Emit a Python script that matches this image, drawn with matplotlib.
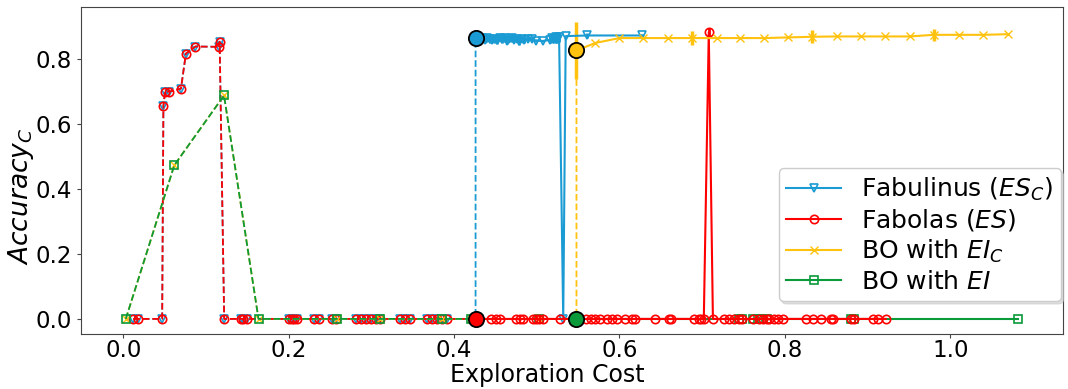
import matplotlib
matplotlib.use("Agg")
import matplotlib.pyplot as plt
from matplotlib.lines import Line2D

plt.rcParams['font.family'] = ['DejaVu Sans']
plt.rcParams['font.size'] = 17

BLUE = '#1a9bd3'
RED = '#ff0000'
YELLOW = '#ffc20e'
GREEN = '#0a9a3a'

# Fabolas - initial (dashed) part, shared by Fabulinus
fab_x_init = [0.012, 0.018, 0.047, 0.0485, 0.0505, 0.0557, 0.0697, 0.0757, 0.0873, 0.1154, 0.1165,
              0.122, 0.142, 0.145, 0.149, 0.200, 0.204, 0.207, 0.210, 0.231, 0.237, 0.252, 0.257,
              0.281, 0.287, 0.293, 0.299, 0.305, 0.311, 0.335, 0.341, 0.347, 0.367, 0.373, 0.379,
              0.385, 0.391, 0.426]
fab_y_init = [0, 0, 0, 0.657, 0.701, 0.701, 0.710, 0.818, 0.840, 0.839, 0.855,
              0, 0, 0, 0, 0, 0, 0, 0, 0, 0, 0, 0,
              0, 0, 0, 0, 0, 0, 0, 0, 0, 0, 0, 0,
              0, 0, 0]

# Fabolas - after switch
fab_x = [0.426, 0.445, 0.451, 0.455, 0.475, 0.480, 0.483, 0.495, 0.499, 0.503, 0.507, 0.528,
         0.559, 0.565, 0.571, 0.576, 0.585, 0.591, 0.597, 0.607, 0.615, 0.619, 0.643, 0.660,
         0.662, 0.690, 0.696, 0.699, 0.702, 0.708, 0.713, 0.727, 0.733, 0.738, 0.744, 0.748,
         0.761, 0.769, 0.774, 0.778, 0.781, 0.787, 0.792, 0.798, 0.826, 0.834, 0.844, 0.856,
         0.858, 0.880, 0.884, 0.906, 0.913, 0.922]
fab_y = [0, 0, 0, 0, 0, 0, 0, 0, 0, 0, 0, 0,
         0, 0, 0, 0, 0, 0, 0, 0, 0, 0, 0, 0,
         0, 0, 0, 0, 0, 0.884, 0, 0, 0, 0, 0, 0,
         0, 0, 0, 0, 0, 0, 0, 0, 0, 0, 0, 0,
         0, 0, 0, 0, 0, 0]
fab_err = [0] * 29 + [0.013] + [0] * 24

# Fabulinus - initial part equals Fabolas, then jumps at switch
fabu_x_init = fab_x_init + [0.426]
fabu_y_init = fab_y_init + [0.866]

fabu_x = [0.426, 0.431, 0.434, 0.437, 0.440, 0.443, 0.446, 0.449, 0.452, 0.455, 0.458, 0.461,
          0.464, 0.467, 0.470, 0.473, 0.476, 0.479, 0.482, 0.485, 0.489, 0.494, 0.499, 0.507,
          0.516, 0.519, 0.521, 0.523, 0.525, 0.527, 0.532, 0.535, 0.561, 0.627]
fabu_y = [0.866, 0.862, 0.865, 0.860, 0.866, 0.863, 0.861, 0.864, 0.859, 0.866, 0.862, 0.865,
          0.858, 0.863, 0.866, 0.861, 0.864, 0.857, 0.862, 0.860, 0.864, 0.862, 0.858, 0.857,
          0.860, 0.866, 0.862, 0.868, 0.864, 0.870, 0.0, 0.872, 0.874, 0.874]
fabu_err = [0.0, 0.010, 0.012, 0.008, 0.011, 0.013, 0.009, 0.012, 0.010, 0.008, 0.011, 0.012,
            0.009, 0.010, 0.012, 0.008, 0.011, 0.013, 0.009, 0.010, 0.008, 0.006, 0.005, 0.004,
            0.010, 0.014, 0.012, 0.016, 0.013, 0.015, 0.0, 0.0, 0.008, 0.004]

# BO with EI - initial (dashed) part, shared by BO with EI_C
ei_x_init = [0.003, 0.0617, 0.1218, 0.1635, 0.259, 0.311, 0.385, 0.420, 0.503, 0.548]
ei_y_init = [0, 0.474, 0.689, 0, 0, 0, 0, 0, 0, 0]

ei_x = [0.548, 0.745, 0.748, 0.761, 0.767, 0.772, 0.778, 0.880, 0.884, 1.082]
ei_y = [0, 0, 0, 0, 0, 0, 0, 0, 0, 0]

eic_x_init = ei_x_init + [0.548]
eic_y_init = ei_y_init + [0.828]

eic_x = [0.548, 0.571, 0.600, 0.629, 0.659, 0.6875, 0.7175, 0.746, 0.775, 0.804, 0.833,
         0.8626, 0.892, 0.921, 0.951, 0.980, 1.010, 1.040, 1.070]
eic_y = [0.828, 0.851, 0.866, 0.866, 0.866, 0.866, 0.866, 0.866, 0.866, 0.868, 0.870,
         0.871, 0.871, 0.871, 0.871, 0.876, 0.876, 0.876, 0.878]
eic_err = [0.088, 0, 0, 0, 0, 0.022, 0, 0, 0, 0, 0.02,
           0, 0, 0, 0, 0.018, 0, 0, 0]

fig = plt.figure(figsize=(10.68, 3.89), dpi=100)
ax = fig.add_axes([0.076, 0.142, 0.919, 0.840])

mk = dict(fillstyle='none', markersize=6, markeredgewidth=1.2)

# Fabulinus
ax.plot(fabu_x_init, fabu_y_init, '--', color=BLUE, marker='v', lw=1.3, **mk)
ax.errorbar(fabu_x, fabu_y, yerr=fabu_err, color=BLUE, marker='v', lw=1.5, elinewidth=2, **mk)
# Fabolas
ax.plot(fab_x_init, fab_y_init, '--', color=RED, marker='o', lw=1.3, **mk)
ax.errorbar(fab_x, fab_y, yerr=fab_err, color=RED, marker='o', lw=1.5, elinewidth=2, **mk)
# BO with EI_C
ax.plot(eic_x_init, eic_y_init, '--', color=YELLOW, marker='x', lw=1.3, markersize=6)
ax.errorbar(eic_x, eic_y, yerr=eic_err, color=YELLOW, marker='x', lw=1.5, elinewidth=2.5, markersize=6)
# BO with EI
ax.plot(ei_x_init, ei_y_init, '--', color=GREEN, marker='s', lw=1.3, **mk)
ax.plot(ei_x, ei_y, '-', color=GREEN, marker='s', lw=1.5, **mk)

# switch points
for xs, ys, c in [(fabu_x, fabu_y, BLUE), (fab_x, fab_y, RED), (eic_x, eic_y, YELLOW), (ei_x, ei_y, GREEN)]:
    ax.plot(xs[0], ys[0], 'o', color=c, markersize=11, markeredgecolor='black', markeredgewidth=1.3, zorder=5)

for s in ax.spines.values():
    s.set_color('#444444')
ax.tick_params(labelsize=16.5, color='#444444', length=3)
ax.tick_params(axis='x', pad=1)
ax.set_xlabel('Exploration Cost', fontsize=17)
ax.set_ylabel('$Accuracy_C$', fontsize=19)
ax.xaxis.set_label_coords(0.475, -0.089)
ax.xaxis.label.set_va('top')
ax.yaxis.set_label_coords(-0.046, 0.42)
ax.set_yticks([0.0, 0.2, 0.4, 0.6, 0.8])
ax.set_xticks([0.0, 0.2, 0.4, 0.6, 0.8, 1.0])

handles = [
    Line2D([], [], color=BLUE, marker='v', lw=1.5, **mk),
    Line2D([], [], color=RED, marker='o', lw=1.5, **mk),
    Line2D([], [], color=YELLOW, marker='x', lw=1.5, markersize=6),
    Line2D([], [], color=GREEN, marker='s', lw=1.5, **mk),
]
labels = ['Fabulinus ($ES_C$)', 'Fabolas ($ES$)', 'BO with $EI_C$', 'BO with $EI$']
ax.legend(handles, labels, loc='lower right', bbox_to_anchor=(0.998, 0.1), fontsize=18,
          handlelength=2.2, labelspacing=0.18, borderpad=0.3, borderaxespad=0,
          framealpha=1, edgecolor='#cccccc', shadow={'color': '0.8', 'alpha': 0.6})

fig.savefig('out.png', dpi=100)
